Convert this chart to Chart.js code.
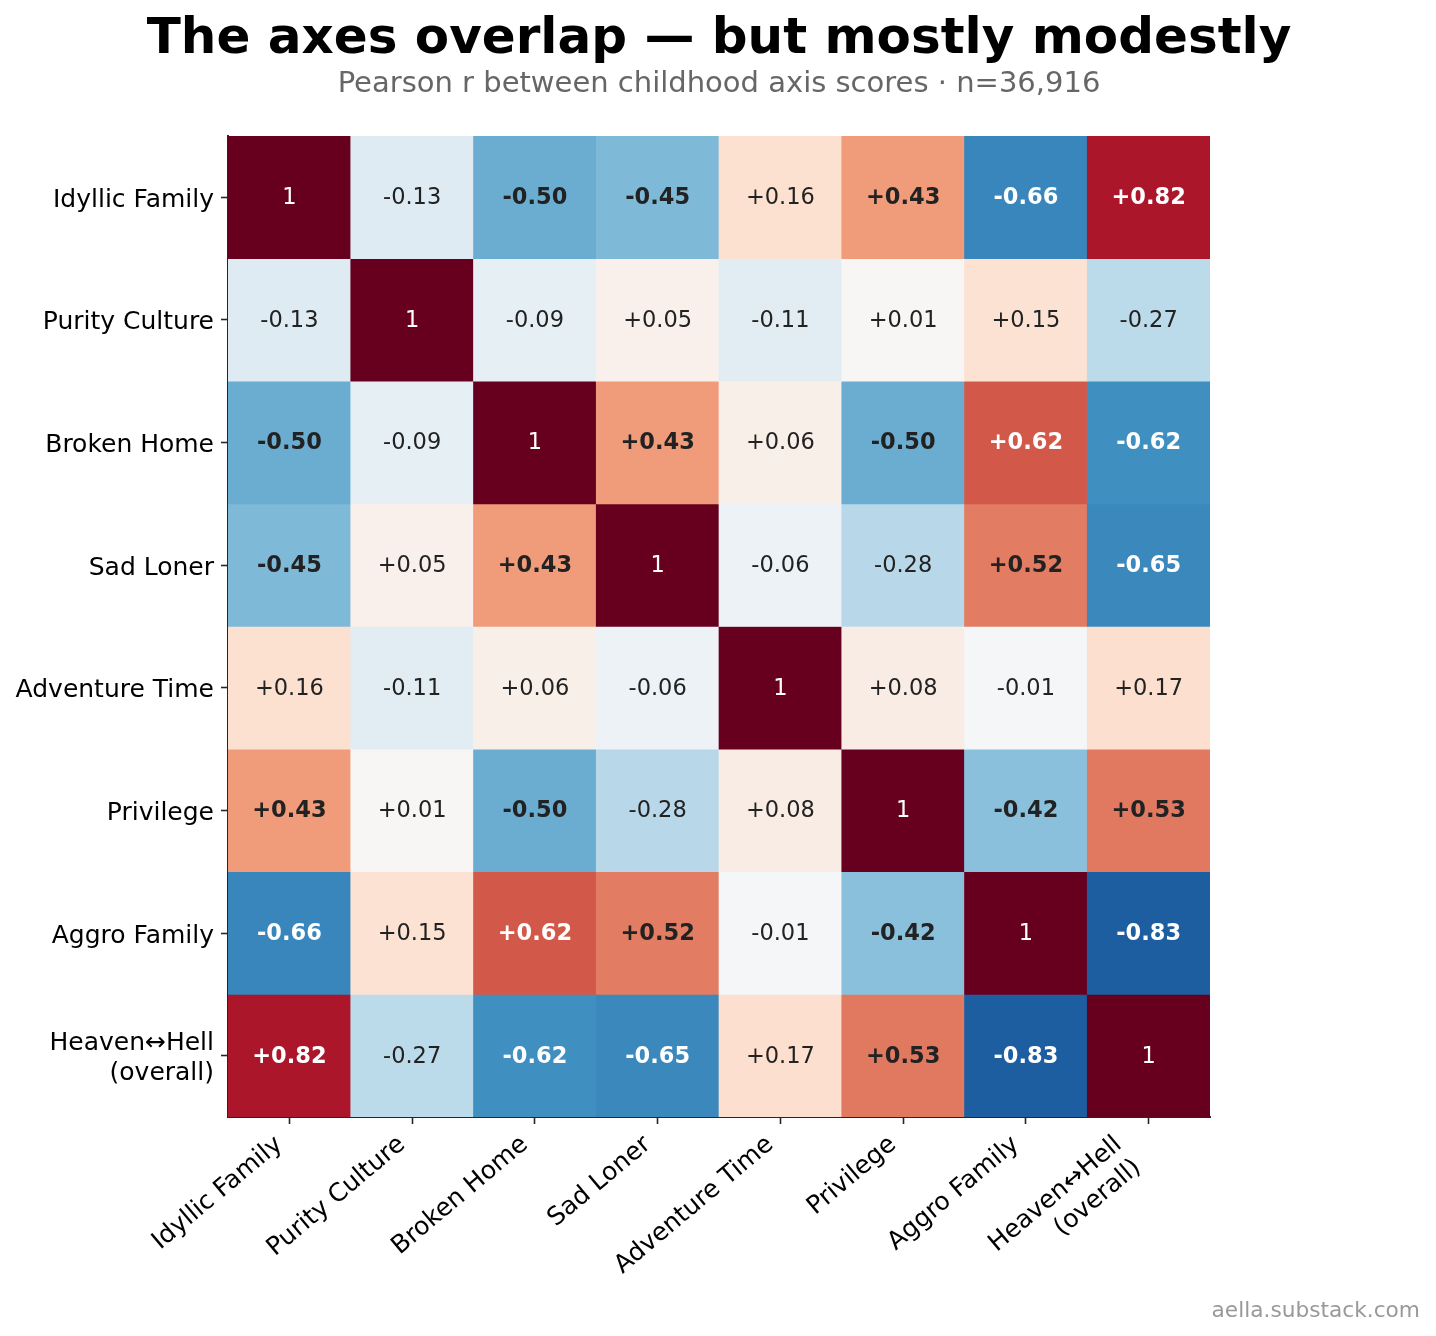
<!DOCTYPE html>
<html>
<head>
<meta charset="utf-8">
<script src="https://cdn.jsdelivr.net/npm/chart.js@4.4.1/dist/chart.umd.min.js"></script>
<style>
  body { margin: 0; background: #fff; }
  #wrap { width: 1436px; height: 1336px; }
</style>
</head>
<body>
<div id="wrap"><canvas id="heat" width="1436" height="1336"></canvas></div>
<script>
// axis names (rows top->bottom, columns left->right)
const axisNames = ['Idyllic Family', 'Purity Culture', 'Broken Home', 'Sad Loner',
    'Adventure Time', 'Privilege', 'Aggro Family', ['Heaven↔Hell', '(overall)']];

// correlation rows
const idyllic   = [1, -0.13, -0.50, -0.45, 0.16, 0.43, -0.66, 0.82];
const purity    = [-0.13, 1, -0.09, 0.05, -0.11, 0.01, 0.15, -0.27];
const broken    = [-0.50, -0.09, 1, 0.43, 0.06, -0.50, 0.62, -0.62];
const sadLoner  = [-0.45, 0.05, 0.43, 1, -0.06, -0.28, 0.52, -0.65];
const adventure = [0.16, -0.11, 0.06, -0.06, 1, 0.08, -0.01, 0.17];
const privilege = [0.43, 0.01, -0.50, -0.28, 0.08, 1, -0.42, 0.53];
const aggro     = [-0.66, 0.15, 0.62, 0.52, -0.01, -0.42, 1, -0.83];
const heaven    = [0.82, -0.27, -0.62, -0.65, 0.17, 0.53, -0.83, 1];

const rows = [idyllic, purity, broken, sadLoner, adventure, privilege, aggro, heaven];

// RdBu_r colormap stops, -1 -> +1
const cmap = ['#053061', '#2166ac', '#4393c3', '#92c5de', '#d1e5f0', '#f7f7f7',
    '#fddbc7', '#f4a582', '#d6604d', '#b2182b', '#67001f'];

function hex2rgb(h) {
    return [parseInt(h.slice(1, 3), 16), parseInt(h.slice(3, 5), 16), parseInt(h.slice(5, 7), 16)];
}
function colorFor(v) {
    let t = (Math.max(-1, Math.min(1, v)) + 1) / 2 * (cmap.length - 1);
    let i = Math.min(Math.floor(t), cmap.length - 2);
    let f = t - i;
    let a = hex2rgb(cmap[i]), b = hex2rgb(cmap[i + 1]);
    let c = a.map((x, k) => Math.round(x + (b[k] - x) * f));
    return `rgb(${c[0]},${c[1]},${c[2]})`;
}

function fmt(v, r, c) {
    if (r == c) return '1';
    return (v > 0 ? '+' : '') + v.toFixed(2);
}

const font = "'DejaVu Sans', sans-serif";

let datasets = rows.map((row, r) => ({
    label: Array.isArray(axisNames[r]) ? axisNames[r].join(' ') : axisNames[r],
    data: row.map(() => [r, r + 1]),
    backgroundColor: row.map((v) => colorFor(v)),
    borderWidth: 0,
    barPercentage: 1,
    categoryPercentage: 1,
    grouped: false
}));

const cellText = {
    id: 'cellText',
    afterDatasetsDraw(chart) {
        let ctx = chart.ctx;
        ctx.save();
        ctx.textAlign = 'center';
        ctx.textBaseline = 'middle';
        rows.forEach((row, r) => {
            let meta = chart.getDatasetMeta(r);
            row.forEach((v, c) => {
                let el = meta.data[c];
                let cy = (el.y + el.base) / 2;
                let strong = r != c && Math.abs(v) >= 0.4;
                ctx.font = (strong ? 'bold ' : '') + '22.5px ' + font;
                ctx.fillStyle = Math.abs(v) > 0.55 ? '#ffffff' : '#222222';
                ctx.fillText(fmt(v, r, c), el.x, cy + 1);
            });
        });
        ctx.restore();
    }
};

// two-line x label: keep the whole block right-aligned at its tick, like the source
const shiftMultiLine = {
    id: 'shiftMultiLine',
    beforeDraw(chart) {
        let sc = chart.scales.x;
        let items = sc.getLabelItems(chart.chartArea);
        items.forEach((it) => {
            if (Array.isArray(it.label) && !it._moved) {
                it.options.translation[0] -= 20;
                it._moved = true;
            }
        });
    }
};

const headings = {
    id: 'headings',
    afterDraw(chart) {
        let ctx = chart.ctx;
        ctx.save();
        ctx.textAlign = 'center';
        ctx.textBaseline = 'alphabetic';
        ctx.fillStyle = '#000';
        ctx.font = 'bold 50px ' + font;
        ctx.fillText('The axes overlap — but mostly modestly', 719, 53);
        ctx.fillStyle = '#666';
        ctx.font = '29px ' + font;
        ctx.fillText('Pearson r between childhood axis scores · n=36,916', 719, 92);
        ctx.textAlign = 'right';
        ctx.fillStyle = '#999';
        ctx.font = '21.7px ' + font;
        ctx.fillText('aella.substack.com', 1420, 1317);
        ctx.restore();
    }
};

function fixBox(w, h) {
    return function (scale) {
        if (w) scale.width = w;
        if (h) scale.height = h;
        scale.paddingLeft = 0;
        scale.paddingRight = 0;
        scale.paddingTop = 0;
        scale.paddingBottom = 0;
    };
}

new Chart(document.getElementById('heat'), {
    type: 'bar',
    data: { labels: axisNames, datasets: datasets },
    options: {
        responsive: false,
        animation: false,
        layout: { padding: { top: 136, right: 226, left: 0, bottom: 0 } },
        plugins: { legend: { display: false }, tooltip: { enabled: false } },
        scales: {
            x: {
                type: 'category',
                offset: true,
                grid: { drawOnChartArea: false, offset: false, tickLength: 7, tickWidth: 1.6, tickColor: '#262626' },
                border: { display: true, color: '#262626', width: 2 },
                ticks: { minRotation: 40, maxRotation: 40, padding: 6, labelOffset: -10, color: '#000', font: { family: font, size: 25 }, autoSkip: false },
                afterFit: fixBox(0, 219)
            },
            y: {
                type: 'linear',
                min: 0,
                max: 8,
                reverse: true,
                afterBuildTicks(axis) {
                    axis.ticks = axisNames.map((n, i) => ({ value: i + 0.5 }));
                },
                grid: { drawOnChartArea: false, tickLength: 7, tickWidth: 1.6, tickColor: '#262626' },
                border: { display: true, color: '#262626', width: 2 },
                ticks: {
                    padding: 7, labelOffset: 3, color: '#000', font: { family: font, size: 25 },
                    callback: (v) => axisNames[Math.floor(v)]
                },
                afterFit: fixBox(228, 0)
            }
        }
    },
    plugins: [cellText, shiftMultiLine, headings]
});
</script>
</body>
</html>
